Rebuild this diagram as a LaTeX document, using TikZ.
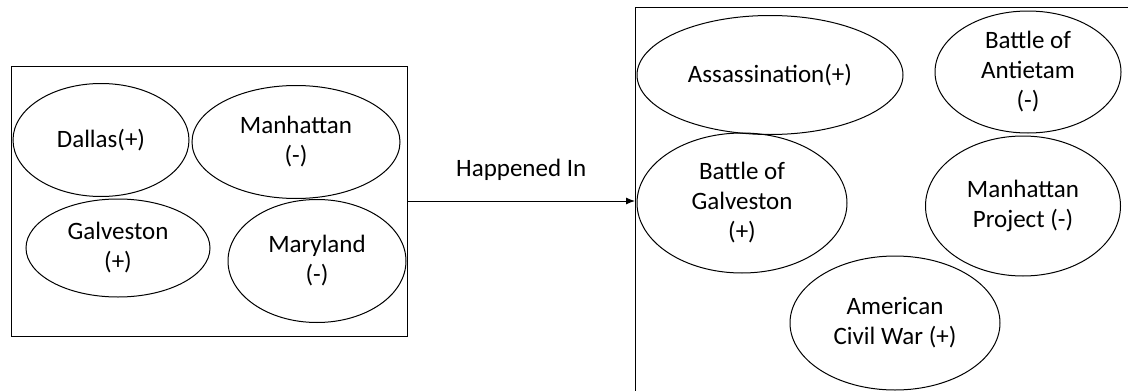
\documentclass[tikz,border=0pt]{standalone}
\usepackage{fontspec}
\setmainfont{Carlito}
\usetikzlibrary{shapes.geometric,arrows.meta}
\begin{document}
\begin{tikzpicture}[x=1pt,y=-1pt,
  oval/.style={draw,ellipse,line width=1pt,inner sep=0pt,align=center,
    font=\fontsize{25}{30}\selectfont},
  frame/.style={draw,line width=1pt},
  lbl/.style={font=\fontsize{25}{30}\selectfont}]
\useasboundingbox (0,0) rectangle (1128,391);
\clip (0,0) rectangle (1128,391);
% left box
\node[frame,minimum width=396pt,minimum height=270pt,inner sep=0pt] (lbox) at (209,201) {};
\node[oval,minimum width=176pt,minimum height=113pt] (dallas) at (101,140) {Dallas(+)};
\node[oval,minimum width=208pt,minimum height=113pt] (manh) at (296,142) {Manhattan\\(-)};
\node[oval,minimum width=184pt,minimum height=98pt] (galv) at (118,248) {Galveston\\(+)};
\node[oval,minimum width=178pt,minimum height=123pt] (mary) at (317,261) {Maryland\\(-)};
% right box (extends beyond the page)
\node[frame,minimum width=500pt,minimum height=400pt,inner sep=0pt,anchor=north west] (rbox) at (635,7) {};
\node[oval,minimum width=266pt,minimum height=119pt] (assas) at (770,75) {Assassination(+)};
\node[oval,minimum width=186pt,minimum height=122pt] (antie) at (1028,72) {Battle of\\Antietam\\(-)};
\node[oval,minimum width=210pt,minimum height=140pt] (bgalv) at (742,203) {Battle of\\Galveston\\(+)};
\node[oval,minimum width=195pt,minimum height=140pt] (mproj) at (1023,206) {Manhattan\\Project (-)};
\node[oval,minimum width=210pt,minimum height=134pt] (acw) at (895,323) {American\\Civil War (+)};
% connector
\draw[line width=1pt,-{Latex[length=9pt,width=7pt]}] (lbox.east |- 0,201) -- (rbox.west |- 0,201)
  node[lbl,midway,above=17pt] (hap) {Happened In};
\end{tikzpicture}
\end{document}
